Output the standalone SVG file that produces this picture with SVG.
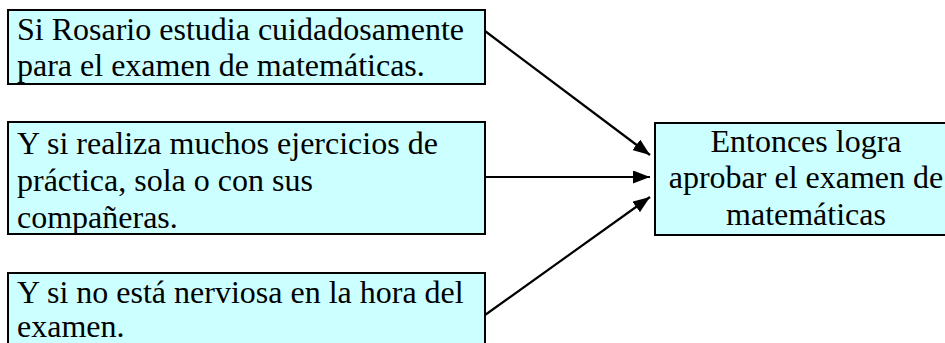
<svg xmlns="http://www.w3.org/2000/svg" width="945" height="343" viewBox="0 0 945 343">
<defs>
<style>
.box{fill:#CCFFFF;stroke:#000;stroke-width:2}
.t{font-size:32px;fill:#000}
.c{text-anchor:middle}
.ln{stroke:#000;stroke-width:2.2;fill:none}
</style>
<marker id="ah" markerWidth="17" markerHeight="13" refX="17" refY="6.5" orient="auto" markerUnits="userSpaceOnUse">
<path d="M0,0 L17,6.5 L0,13 z" fill="#000"/>
</marker>
</defs>
<rect width="945" height="343" fill="#fff"/>
<g font-family="'Liberation Serif', 'Times New Roman', Tinos, 'DejaVu Serif', serif">
<g id="node1">
<rect class="box" x="8" y="10" width="477" height="74"/>
<text class="t" x="17" y="40">Si Rosario estudia cuidadosamente</text>
<text class="t" x="17" y="76">para el examen de matemáticas.</text>
</g>
<g id="node2">
<rect class="box" x="8" y="122" width="477" height="112"/>
<text class="t" x="17" y="154">Y si realiza muchos ejercicios de</text>
<text class="t" x="17" y="191">práctica, sola o con sus</text>
<text class="t" x="17" y="228">compañeras.</text>
</g>
<g id="node3">
<rect class="box" x="8" y="273" width="477" height="80"/>
<text class="t" x="17" y="303">Y si no está nerviosa en la hora del</text>
<text class="t" x="17" y="337">examen.</text>
</g>
<g id="node4">
<rect class="box" x="655" y="123" width="310" height="112"/>
<text class="t c" x="806" y="152">Entonces logra</text>
<text class="t c" x="806" y="188">aprobar el examen de</text>
<text class="t c" x="806" y="225">matemáticas</text>
</g>
</g>
<g id="connectors">
<line class="ln" x1="485" y1="31" x2="650" y2="155" marker-end="url(#ah)"/>
<line class="ln" x1="485" y1="177" x2="650" y2="177" marker-end="url(#ah)"/>
<line class="ln" x1="485" y1="315" x2="650" y2="197" marker-end="url(#ah)"/>
</g>
</svg>
